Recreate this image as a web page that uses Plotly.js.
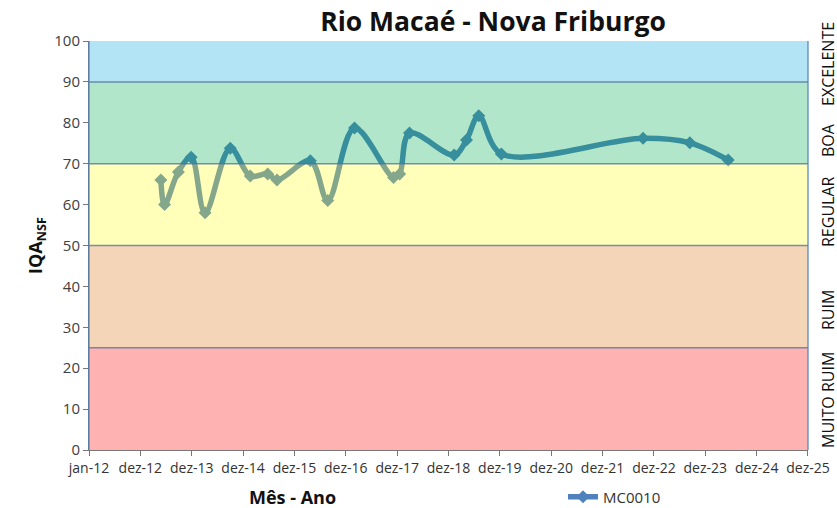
<!DOCTYPE html>
<html>
<head>
<meta charset="utf-8">
<script src="https://cdn.plot.ly/plotly-3.0.1.min.js"></script>
<style>html,body{margin:0;padding:0;background:#fff;overflow:hidden}#chart{width:837px;height:508px}</style>
</head>
<body>
<div id="chart"></div>
<script>
// ---- data ----
const dates = ['2013-05-26','2013-06-21','2013-09-27','2013-12-27','2014-04-05','2014-10-01','2015-02-20','2015-06-24','2015-08-29','2016-04-22','2016-08-24','2017-03-02','2017-12-04','2018-01-17','2018-03-28','2019-02-08','2019-05-07','2019-08-02','2020-01-10','2022-10-13','2023-09-10','2024-06-09'];
const iqa = [66, 60, 68, 71.6, 58, 73.8, 67, 67.5, 66, 70.7, 61, 78.7, 66.6, 67.5, 77.5, 72.1, 75.8, 81.7, 72.4, 76.2, 75.1, 70.9];
const tickDates = ['2012-01-01','2012-12-31','2013-12-31','2014-12-31','2015-12-31','2016-12-30','2017-12-30','2018-12-30','2019-12-30','2020-12-29','2021-12-29','2022-12-29','2023-12-29','2024-12-28','2025-12-28'];
const tickLabels = ['jan-12','dez-12','dez-13','dez-14','dez-15','dez-16','dez-17','dez-18','dez-19','dez-20','dez-21','dez-22','dez-23','dez-24','dez-25'];
const bandLimits = [0, 25, 50, 70, 90, 100];
const bandNames = ['MUITO RUIM', 'RUIM', 'REGULAR', 'BOA', 'EXCELENTE'];
const bandOverlay = ['rgba(255,0,0,0.3)', 'rgba(222,115,18,0.3)', 'rgba(255,255,28,0.3)', 'rgba(0,172,78,0.3)', 'rgba(0,165,222,0.3)'];
const bandLabelY = [400, 310, 212, 140, 64]; // pixel centres of side labels

const plotTop = 41, plotBottom = 450, plotLeft = 89, plotRight = 808, W = 837, H = 508;
const FONT = 'Open Sans, Liberation Sans, sans-serif';

const shapes = [];
for (let i = 0; i < bandNames.length; i++) {
  shapes.push({type:'rect', xref:'paper', yref:'y', x0:0, x1:1, y0:bandLimits[i], y1:bandLimits[i+1],
    fillcolor: bandOverlay[i], line:{width:0}, layer:'above'});
}
for (let i = 1; i < bandLimits.length - 1; i++) {
  shapes.push({type:'line', xref:'paper', yref:'y', x0:0, x1:1, y0:bandLimits[i], y1:bandLimits[i],
    line:{color:'rgba(79,110,160,0.75)', width:1.5}, layer:'above'});
}
shapes.push({type:'line', xref:'paper', yref:'paper', x0:0, x1:0, y0:0, y1:1, line:{color:'rgba(79,129,189,0.8)', width:1.5}, layer:'above'});
shapes.push({type:'line', xref:'paper', yref:'paper', x0:1, x1:1, y0:0, y1:1, line:{color:'rgba(79,129,189,0.8)', width:1.5}, layer:'above'});

const annotations = bandNames.map((n, i) => ({
  text: n, xref:'paper', yref:'paper', x: (815 - plotLeft) / (plotRight - plotLeft), xanchor:'left',
  y: (plotBottom - bandLabelY[i]) / (plotBottom - plotTop), yanchor:'middle',
  textangle: -90, showarrow:false,
  font:{family:FONT, size:16, color:'#111'}
}));
annotations.push({text:'<b>Mês - Ano</b>', xref:'paper', yref:'paper', x:(292-plotLeft)/(plotRight-plotLeft), xanchor:'center',
  y:(plotBottom-497)/(plotBottom-plotTop), yanchor:'middle', showarrow:false,
  font:{family:FONT, size:18, color:'#111'}});

const trace = {
  x: dates, y: iqa, name: 'MC0010', type:'scatter', mode:'lines+markers',
  line:{color:'#4F81BD', width:5.5, shape:'spline', smoothing:1},
  marker:{symbol:'diamond', size:10, color:'#4F81BD'},
  cliponaxis:false
};

const layout = {
  width:W, height:H,
  margin:{l:plotLeft, r:W-plotRight, t:plotTop, b:H-plotBottom},
  paper_bgcolor:'#fff', plot_bgcolor:'#fff',
  title:{text:'<b>Rio Macaé - Nova Friburgo</b>', x:493/W, xanchor:'center', y:1-22/H, yanchor:'middle',
    font:{family:FONT, size:26.5, color:'#111'}},
  xaxis:{type:'date', range:['2012-01-01','2025-12-28 02:00'], tickmode:'array', tickvals:tickDates, ticktext:tickLabels,
    showgrid:false, zeroline:false, showline:true, linecolor:'#777', linewidth:1,
    ticks:'outside', ticklen:5, tickcolor:'#777', automargin:false, tickangle:0,
    tickfont:{family:FONT, size:14, color:'#333'}},
  yaxis:{range:[0,100], tick0:0, dtick:10, showgrid:false, zeroline:false, showline:true, linecolor:'#777', linewidth:1,
    ticks:'outside', ticklen:5, tickcolor:'#777', automargin:false,
    tickfont:{family:FONT, size:15, color:'#404040'},
    title:{text:'<b>IQA<sub>NSF</sub></b>', standoff:6, font:{family:FONT, size:18, color:'#111'}}},
  showlegend:true,
  legend:{orientation:'h', xref:'container', yref:'container', x:563/W, xanchor:'left', y:1-497/H, yanchor:'middle',
    bgcolor:'rgba(0,0,0,0)', font:{family:FONT, size:15, color:'#333'}},
  shapes: shapes,
  annotations: annotations
};

Plotly.newPlot('chart', [trace], layout, {displayModeBar:false, staticPlot:true});
</script>
</body>
</html>
